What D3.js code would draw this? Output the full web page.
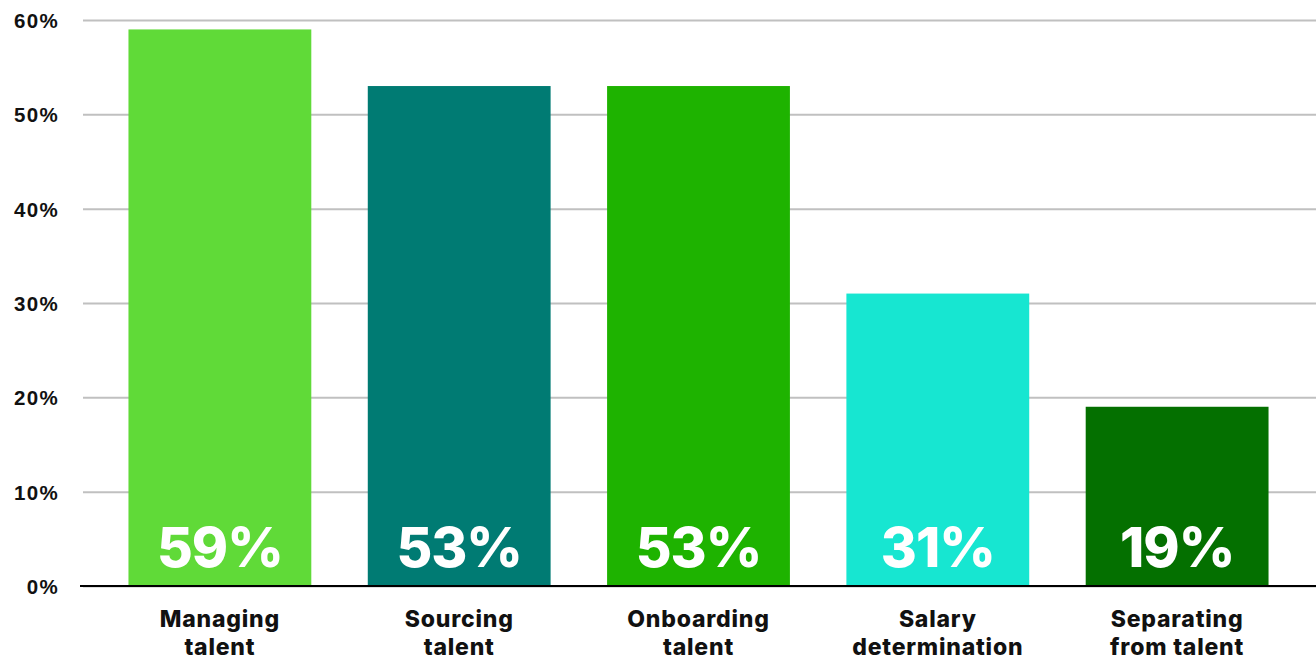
<!DOCTYPE html>
<html>
<head>
<meta charset="utf-8">
<script src="https://cdn.jsdelivr.net/npm/d3@7"></script>
<style>
  html, body { margin: 0; padding: 0; background: #fff; }
  svg { display: block; font-family: "Inter", "Open Sans", sans-serif; }
</style>
</head>
<body>
<div id="chart"></div>
<script>
// Data
const categories = ["Managing talent", "Sourcing talent", "Onboarding talent", "Salary determination", "Separating from talent"];
const labelLines = [["Managing", "talent"], ["Sourcing", "talent"], ["Onboarding", "talent"], ["Salary", "determination"], ["Separating", "from talent"]];
const values = [59, 53, 53, 31, 19];
const barColors = ["#60da38", "#007b73", "#1eb300", "#17e6d1", "#047000"];
const yTicks = [0, 10, 20, 30, 40, 50, 60];

const width = 1316, height = 661;
const margin = { top: 20, right: 2, bottom: 75, left: 83 };

const x = d3.scaleBand()
    .domain(categories)
    .range([margin.left, width - margin.right])
    .paddingInner(0.236)
    .paddingOuter(0.19);

const y = d3.scaleLinear()
    .domain([0, 60])
    .range([height - margin.bottom, margin.top]);

const color = d3.scaleOrdinal().domain(categories).range(barColors);

const svg = d3.select("#chart").append("svg")
    .attr("width", width)
    .attr("height", height);

// Gridlines + y tick labels
svg.append("g")
    .attr("transform", `translate(${margin.left},0)`)
    .call(d3.axisLeft(y).tickValues(yTicks).tickSize(-(width - margin.left)).tickFormat(d => d + "%"))
    .call(g => g.select(".domain").remove())
    .call(g => g.selectAll(".tick line").attr("stroke", "#c0c0c0").attr("stroke-width", 2))
    .call(g => g.selectAll(".tick text")
        .attr("x", -24)
        .attr("dy", "0.36em")
        .attr("fill", "#111")
        .style("font-size", "20.5px")
        .style("font-weight", 800)
        .style("letter-spacing", "1.3px"));

// Bars
svg.append("g")
    .selectAll("rect")
    .data(values)
    .join("rect")
    .attr("x", (d, i) => x(categories[i]))
    .attr("y", d => y(d))
    .attr("width", x.bandwidth())
    .attr("height", d => y(0) - y(d))
    .attr("fill", (d, i) => color(categories[i]));

// Value labels inside bars
svg.append("g")
    .selectAll("text")
    .data(values)
    .join("text")
    .attr("x", (d, i) => x(categories[i]) + x.bandwidth() / 2)
    .attr("y", y(0) - 19)
    .attr("text-anchor", "middle")
    .attr("fill", "#fff")
    .style("font-size", "55px")
    .style("font-weight", 800)
    .style("letter-spacing", "-1px")
    .text(d => d + "%");

// Baseline
svg.append("line")
    .attr("x1", margin.left - 3)
    .attr("x2", width)
    .attr("y1", y(0))
    .attr("y2", y(0))
    .attr("stroke", "#000")
    .attr("stroke-width", 2);

// Category labels (two lines each)
const cat = svg.append("g")
    .selectAll("text")
    .data(categories)
    .join("text")
    .attr("x", d => x(d) + x.bandwidth() / 2)
    .attr("y", 627)
    .attr("text-anchor", "middle")
    .attr("fill", "#111")
    .style("font-size", "23px")
    .style("font-weight", 800)
    .style("letter-spacing", "0.8px");

cat.selectAll("tspan")
    .data((d, i) => labelLines[i])
    .join("tspan")
    .attr("x", function () { return this.parentNode.getAttribute("x"); })
    .attr("dy", (d, i) => i === 0 ? 0 : 28)
    .text(d => d);
</script>
</body>
</html>
